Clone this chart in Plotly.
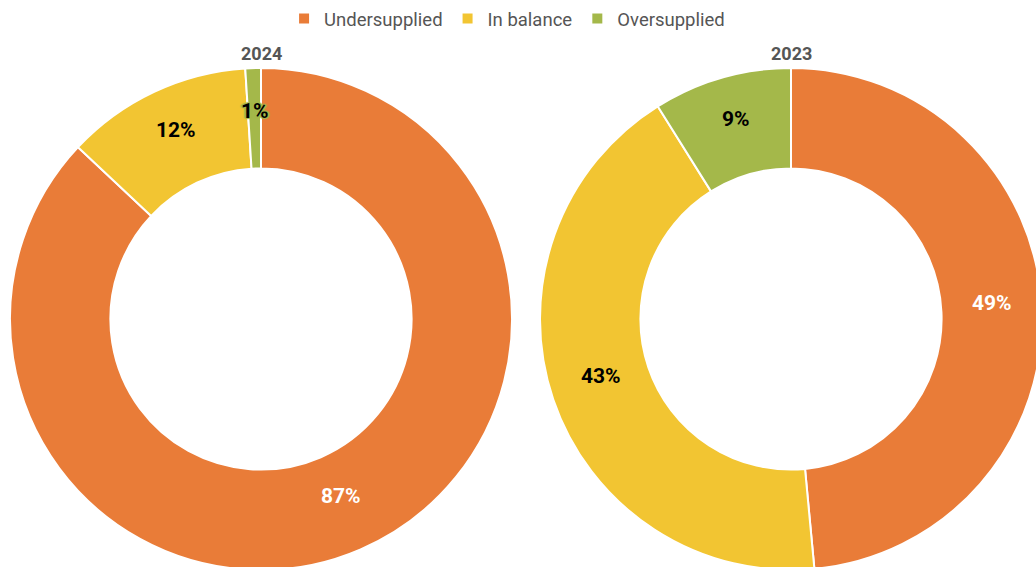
import math
import plotly.graph_objects as go

categories = ["Undersupplied", "In balance", "Oversupplied"]
values_2024 = [87, 12, 1]
values_2023 = [49, 43, 9]
years = ["2024", "2023"]
colors = ["#E97C38", "#F2C532", "#A4B84A"]
label_colors = ["white", "black", "black"]

W, H = 1044, 572
HOLE = 0.6
# pixel boxes of the two pie domains (left, right, top, bottom)
boxes = [(10, 512, 68, 570), (540, 1042, 68, 570)]


def dom(b):
    x0, x1, yt, yb = b
    return dict(x=[x0 / W, x1 / W], y=[1 - yb / H, 1 - yt / H])


fig = go.Figure()
for i, (vals, year, box) in enumerate(zip([values_2024, values_2023], years, boxes)):
    fig.add_trace(go.Pie(
        labels=categories,
        values=vals,
        sort=False,
        direction="clockwise",
        rotation=0,
        hole=HOLE,
        marker=dict(colors=colors, line=dict(color="white", width=2)),
        textinfo="none",
        domain=dom(box),
        showlegend=(i == 0),
        hoverinfo="label+value",
    ))
    # year title above each donut
    cx_px = (box[0] + box[1]) / 2
    fig.add_annotation(x=cx_px / W, y=1 - 54 / H, xref="paper", yref="paper",
                       xanchor="center", yanchor="middle",
                       text="<b>" + year + "</b>", showarrow=False,
                       font=dict(family="Roboto", size=18, color="#555555"))
    # percentage labels placed at the middle of each ring segment
    cy_px = (box[2] + box[3]) / 2
    r_out = min(box[1] - box[0], box[3] - box[2]) / 2
    r_mid = r_out * (1 + HOLE) / 2
    total = sum(vals)
    cum = 0
    for j, v in enumerate(vals):
        theta = 2 * math.pi * (cum + v / 2) / total
        cum += v
        lx = cx_px + r_mid * math.sin(theta)
        ly = cy_px - r_mid * math.cos(theta) - 7
        shadow = "none"
        if v / total < 0.03:
            c = colors[j]
            shadow = (f"1px 1px 1px {c}, -1px -1px 1px {c}, 1px -1px 1px {c}, "
                      f"-1px 1px 1px {c}, 2px 0px 1px {c}, -2px 0px 1px {c}")
        fig.add_annotation(x=lx / W, y=1 - ly / H, xref="paper", yref="paper",
                           xanchor="center", yanchor="middle",
                           text="<b>" + f"{v}%" + "</b>", showarrow=False,
                           font=dict(family="Roboto", size=21, color=label_colors[j],
                                     shadow=shadow))

fig.update_layout(
    width=W, height=H,
    margin=dict(l=0, r=0, t=0, b=0),
    paper_bgcolor="white",
    plot_bgcolor="white",
    legend=dict(orientation="h", x=0.4857, xanchor="center", y=1.0, yanchor="top",
                font=dict(family="Roboto", size=18.5, color="#555555"),
                itemwidth=30, traceorder="normal"),
)

fig.write_html(
    "out.html",
    config={"displayModeBar": False},
    post_script="document.body.style.margin='0';document.body.style.overflow='hidden';"
                "document.documentElement.style.overflow='hidden';",
)
